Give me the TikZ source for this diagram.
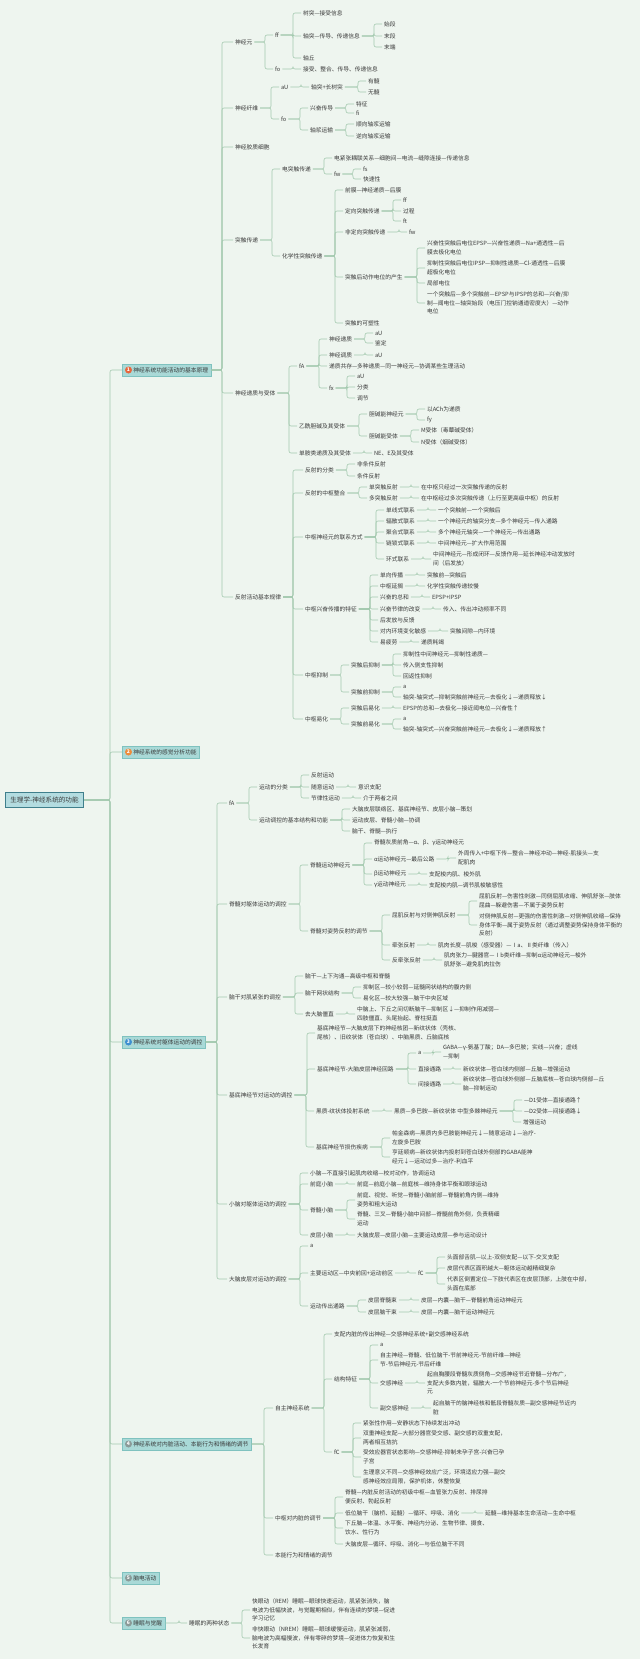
\documentclass[tikz,border=0pt]{standalone}
\usepackage{fontspec}
\setmainfont{Noto Sans CJK SC}
\definecolor{bg}{HTML}{EEF5EF}
\definecolor{lc}{HTML}{A3C9AE}
\definecolor{txt}{HTML}{3A3A3A}
\definecolor{boxf}{HTML}{A9D9D7}
\definecolor{boxd}{HTML}{7FC2BF}
\definecolor{rootf}{HTML}{B3DCE0}
\definecolor{rootd}{HTML}{3F7F8C}
\definecolor{ic1}{HTML}{E8663D}
\definecolor{ic2}{HTML}{EE8B3A}
\definecolor{ic3}{HTML}{3E8FD0}
\definecolor{ic4}{HTML}{8A9A98}
\tikzset{
 t/.style={anchor=west,inner sep=1.8pt,font=\fontsize{5.75}{8.5}\selectfont,text=txt,align=left},
 conn/.style={draw=lc,line width=0.6pt,rounded corners=2pt},
 lone/.style={anchor=west,draw=boxd,fill=boxf,line width=0.5pt,inner xsep=3pt,inner ysep=2pt,minimum height=12pt,font=\fontsize{5.75}{8.5}\selectfont,text=txt},
 rootbox/.style={anchor=west,draw=rootd,fill=rootf,line width=0.8pt,inner xsep=5pt,minimum height=15pt,font=\fontsize{6.6}{8}\selectfont,text=txt},
 circ/.style={circle,inner sep=0pt,minimum size=7pt,text=white,font=\fontsize{5}{5}\selectfont\bfseries}
}
\newcommand\mk[4]{\node[t] (#1) at (#2,#3) {#4};}
\newcommand\lks[3][8]{\foreach \cc in {#3}{\draw[conn] (#2.east) -| ([xshift=-#1pt]\cc.west) -- (\cc.west);}}
\begin{document}
\begin{tikzpicture}[x=1pt,y=-1pt]
\fill[bg] (0,0) rectangle (640,1659);
\useasboundingbox (0,0) rectangle (640,1659);
% root and level 1
\node[rootbox] (R) at (5,800) {生理学-神经系统的功能};
\node[lone] (L1) at (122,370) {\hspace*{8pt}神经系统功能活动的基本原理};
\node[lone] (L2) at (122,752) {\hspace*{8pt}神经系统的感觉分析功能};
\node[lone] (L3) at (122,1042) {\hspace*{8pt}神经系统对躯体运动的调控};
\node[lone] (L4) at (122,1444) {\hspace*{8pt}神经系统对内脏活动、本能行为和情绪的调节};
\node[lone] (L5) at (122,1578) {\hspace*{8pt}脑电活动};
\node[lone] (L6) at (122,1623) {\hspace*{8pt}睡眠与觉醒};
\lks[12]{R}{L1,L2,L3,L4,L5,L6}
\node[circ,fill=ic1] at ([xshift=6.5pt]L1.west) {1};
\node[circ,fill=ic2] at ([xshift=6.5pt]L2.west) {2};
\node[circ,fill=ic3] at ([xshift=6.5pt]L3.west) {3};
\node[circ,fill=ic4] at ([xshift=6.5pt]L4.west) {4};
\node[circ,fill=ic4] at ([xshift=6.5pt]L5.west) {5};
\node[circ,fill=ic4] at ([xshift=6.5pt]L6.west) {6};
% ===== L1 =====
\mk{a1}{233}{42}{神经元}
\mk{a2}{233}{108}{神经纤维}
\mk{a3}{233}{147}{神经胶质细胞}
\mk{a4}{233}{240}{突触传递}
\mk{a5}{233}{393}{神经递质与受体}
\mk{a6}{233}{597}{反射活动基本规律}
\lks[11]{L1}{a1,a2,a3,a4,a5,a6}
\mk{b1}{273}{35}{ff}
\mk{b2}{273}{69}{fo}
\lks{a1}{b1,b2}
\mk{c1}{301}{13}{树突—接受信息}
\mk{c2}{301}{36}{轴突—传导、传递信息}
\mk{c3}{301}{58}{轴丘}
\lks{b1}{c1,c2,c3}
\mk{d1}{382}{24}{始段}
\mk{d2}{382}{36}{末段}
\mk{d3}{382}{47}{末端}
\lks{c2}{d1,d2,d3}
\mk{c4}{301}{69}{接受、整合、传导、传递信息}
\lks{b2}{c4}
\mk{b3}{279}{87}{aU}
\mk{b4}{279}{119}{fo}
\lks{a2}{b3,b4}
\mk{c5}{309}{87}{轴突+长树突}
\lks{b3}{c5}
\mk{d4}{366}{81}{有髓}
\mk{d5}{366}{92}{无髓}
\lks{c5}{d4,d5}
\mk{c6}{308}{108}{兴奋传导}
\mk{c7}{308}{130}{轴浆运输}
\lks{b4}{c6,c7}
\mk{d6}{354}{104}{特征}
\mk{d7}{354}{113}{fi}
\lks{c6}{d6,d7}
\mk{d8}{354}{124}{顺向轴浆运输}
\mk{d9}{354}{136}{逆向轴浆运输}
\lks{c7}{d8,d9}
\mk{b5}{280}{169}{电突触传递}
\mk{b6}{280}{256}{化学性突触传递}
\lks{a4}{b5,b6}
\mk{c8}{332}{158}{电紧张耦联关系—细胞间—电流—缝隙连接—传递信息}
\mk{c9}{332}{174}{fw}
\lks{b5}{c8,c9}
\mk{d10}{361}{169}{fs}
\mk{d11}{361}{179}{快速性}
\lks{c9}{d10,d11}
\mk{c10}{343}{190}{前膜—神经递质—后膜}
\mk{c11}{343}{211}{定向突触传递}
\mk{c12}{343}{232}{非定向突触传递}
\mk{c13}{343}{277}{突触后动作电位的产生}
\mk{c14}{343}{323}{突触的可塑性}
\lks{b6}{c10,c11,c12,c13,c14}
\mk{d12}{401}{200}{ff}
\mk{d13}{401}{211}{过程}
\mk{d14}{401}{221}{ft}
\lks{c11}{d12,d13,d14}
\mk{d15}{407}{232}{fw}
\lks{c12}{d15}
\mk{d16}{425}{248}{兴奋性突触后电位EPSP—兴奋性递质—Na+通透性—后\\膜去极化电位}
\mk{d17}{425}{268}{抑制性突触后电位IPSP—抑制性递质—Cl-通透性—后膜\\超极化电位}
\mk{d18}{425}{283}{局部电位}
\mk{d19}{425}{303}{一个突触后—多个突触前—EPSP与IPSP的总和—兴奋/抑\\制—阈电位—轴突始段（电压门控钠通道密度大）—动作\\电位}
\lks{c13}{d16,d17,d18,d19}
\mk{b7}{297}{366}{fA}
\mk{b8}{297}{426}{乙酰胆碱及其受体}
\mk{b9}{297}{453}{单胺类递质及其受体}
\lks{a5}{b7,b8,b9}
\mk{c15}{327}{339}{神经递质}
\mk{c16}{327}{355}{神经调质}
\mk{c17}{327}{366}{递质共存—多种递质—同一神经元—协调某些生理活动}
\mk{c18}{327}{388}{fx}
\lks{b7}{c15,c16,c17,c18}
\mk{d20}{373}{333}{aU}
\mk{d21}{373}{343}{鉴定}
\lks{c15}{d20,d21}
\mk{d22}{373}{355}{aU}
\lks{c16}{d22}
\mk{d23}{355}{376}{aU}
\mk{d24}{355}{387}{分类}
\mk{d25}{355}{398}{调节}
\lks{c18}{d23,d24,d25}
\mk{c19}{367}{414}{胆碱能神经元}
\mk{c20}{367}{436}{胆碱能受体}
\lks{b8}{c19,c20}
\mk{d26}{425}{409}{以ACh为递质}
\mk{d27}{425}{420}{fy}
\lks{c19}{d26,d27}
\mk{d28}{419}{430}{M受体（毒蕈碱受体）}
\mk{d29}{419}{442}{N受体（烟碱受体）}
\lks{c20}{d28,d29}
\mk{c21}{372}{453}{NE、E及其受体}
\lks{b9}{c21}
\mk{b10}{303}{470}{反射的分类}
\mk{b11}{303}{493}{反射的中枢整合}
\mk{b12}{303}{537}{中枢神经元的联系方式}
\mk{b13}{303}{609}{中枢兴奋传播的特征}
\mk{b14}{303}{675}{中枢抑制}
\mk{b15}{303}{719}{中枢易化}
\lks[10]{a6}{b10,b11,b12,b13,b14,b15}
\mk{c22}{355}{464}{非条件反射}
\mk{c23}{355}{476}{条件反射}
\lks{b10}{c22,c23}
\mk{c24}{367}{487}{单突触反射}
\mk{c25}{367}{498}{多突触反射}
\lks{b11}{c24,c25}
\mk{d30}{419}{487}{在中枢只经过一次突触传递的反射}
\lks{c24}{d30}
\mk{d31}{419}{498}{在中枢经过多次突触传递（上行至更高级中枢）的反射}
\lks{c25}{d31}
\mk{c26}{384}{510}{单线式联系}
\mk{c27}{384}{521}{辐散式联系}
\mk{c28}{384}{532}{聚合式联系}
\mk{c29}{384}{543}{链锁式联系}
\mk{c30}{384}{559}{环式联系}
\lks{b12}{c26,c27,c28,c29,c30}
\mk{d32}{436}{510}{一个突触前—一个突触后}
\lks{c26}{d32}
\mk{d33}{436}{521}{一个神经元的轴突分支—多个神经元—传入通路}
\lks{c27}{d33}
\mk{d34}{436}{532}{多个神经元轴突—一个神经元—传出通路}
\lks{c28}{d34}
\mk{d35}{436}{543}{中间神经元—扩大作用范围}
\lks{c29}{d35}
\mk{d36}{431}{559}{中间神经元—形成闭环—反馈作用—延长神经冲动发放时\\间（后发放）}
\lks{c30}{d36}
\mk{c31}{378}{575}{单向传播}
\mk{c32}{378}{586}{中枢延搁}
\mk{c33}{378}{597}{兴奋的总和}
\mk{c34}{378}{609}{兴奋节律的改变}
\mk{c35}{378}{620}{后发放与反馈}
\mk{c36}{378}{631}{对内环境变化敏感}
\mk{c37}{378}{642}{易疲劳}
\lks{b13}{c31,c32,c33,c34,c35,c36,c37}
\mk{d37}{425}{575}{突触前—突触后}
\lks{c31}{d37}
\mk{d38}{425}{586}{化学性突触传递较慢}
\lks{c32}{d38}
\mk{d39}{430}{597}{EPSP+IPSP}
\lks{c33}{d39}
\mk{d40}{441}{609}{传入、传出冲动频率不同}
\lks{c34}{d40}
\mk{d41}{448}{631}{突触间隙—内环境}
\lks{c36}{d41}
\mk{d42}{419}{642}{递质耗竭}
\lks{c37}{d42}
\mk{c38}{349}{665}{突触后抑制}
\mk{c39}{349}{692}{突触前抑制}
\lks{b14}{c38,c39}
\mk{d43}{401}{654}{抑制性中间神经元—抑制性递质—}
\mk{d44}{401}{665}{传入侧支性抑制}
\mk{d45}{401}{676}{回返性抑制}
\lks{c38}{d43,d44,d45}
\mk{d46}{401}{687}{a}
\mk{d47}{401}{697}{轴突-轴突式—抑制突触前神经元—去极化↓—递质释放↓}
\lks{c39}{d46,d47}
\mk{c40}{349}{708}{突触后易化}
\mk{c41}{349}{724}{突触前易化}
\lks{b15}{c40,c41}
\mk{d48}{401}{708}{EPSP的总和—去极化—接近阈电位—兴奋性↑}
\lks{c40}{d48}
\mk{d49}{401}{719}{a}
\mk{d50}{401}{729}{轴突-轴突式—兴奋突触前神经元—去极化↓—递质释放↑}
\lks{c41}{d49,d50}
% ===== L3 =====
\mk{e1}{227}{803}{fA}
\mk{e2}{227}{904}{脊髓对躯体运动的调控}
\mk{e3}{227}{997}{脑干对肌紧张的调控}
\mk{e4}{227}{1095}{基底神经节对运动的调控}
\mk{e5}{227}{1204}{小脑对躯体运动的调控}
\mk{e6}{227}{1279}{大脑皮层对运动的调控}
\lks[10]{L3}{e1,e2,e3,e4,e5,e6}
\mk{f1}{257}{787}{运动的分类}
\mk{f2}{257}{820}{运动调控的基本结构和功能}
\lks{e1}{f1,f2}
\mk{g1}{309}{775}{反射运动}
\mk{g2}{309}{787}{随意运动}
\mk{g3}{309}{798}{节律性运动}
\lks{f1}{g1,g2,g3}
\mk{h1}{356}{787}{意识支配}
\lks{g2}{h1}
\mk{h2}{361}{798}{介于两者之间}
\lks{g3}{h2}
\mk{g4}{350}{809}{大脑皮层联络区、基底神经节、皮层小脑—策划}
\mk{g5}{350}{820}{运动皮层、脊髓小脑—协调}
\mk{g6}{350}{831}{脑干、脊髓—执行}
\lks{f2}{g4,g5,g6}
\mk{f3}{308}{865}{脊髓运动神经元}
\mk{f4}{308}{931}{脊髓对姿势反射的调节}
\lks{e2}{f3,f4}
\mk{g7}{372}{843}{脊髓灰质前角—α、β、γ运动神经元}
\mk{g8}{372}{859}{α运动神经元—最后公路}
\mk{g9}{372}{874}{β运动神经元}
\mk{g10}{372}{885}{γ运动神经元}
\lks{f3}{g7,g8,g9,g10}
\mk{h3}{456}{858}{外周传入+中枢下传—整合—神经冲动—神经-肌接头—支\\配肌肉}
\lks{g8}{h3}
\mk{h4}{427}{874}{支配梭内肌、梭外肌}
\lks{g9}{h4}
\mk{h5}{427}{885}{支配梭内肌—调节肌梭敏感性}
\lks{g10}{h5}
\mk{g11}{390}{915}{屈肌反射与对侧伸肌反射}
\mk{g12}{390}{945}{牵张反射}
\mk{g13}{390}{960}{反牵张反射}
\lks{f4}{g11,g12,g13}
\mk{h6}{477}{901}{屈肌反射—伤害性刺激—同侧屈肌收缩、伸肌舒张—肢体\\屈曲—躲避伤害—不属于姿势反射}
\mk{h7}{477}{925}{对侧伸肌反射—更强的伤害性刺激—对侧伸肌收缩—保持\\身体平衡—属于姿势反射（通过调整姿势保持身体平衡的\\反射）}
\lks{g11}{h6,h7}
\mk{h8}{436}{945}{肌肉长度—肌梭（感受器）—Ⅰa、Ⅱ类纤维（传入）}
\lks{g12}{h8}
\mk{h9}{442}{960}{肌肉张力—腱器官—Ⅰb类纤维—抑制α运动神经元—梭外\\肌舒张—避免肌肉拉伤}
\lks{g13}{h9}
\mk{f5}{303}{976}{脑干—上下沟通—高级中枢和脊髓}
\mk{f6}{303}{993}{脑干网状结构}
\mk{f7}{303}{1014}{去大脑僵直}
\lks{e3}{f5,f6,f7}
\mk{g14}{361}{987}{抑制区—较小较弱—延髓网状结构的腹内侧}
\mk{g15}{361}{998}{易化区—较大较强—脑干中央区域}
\lks{f6}{g14,g15}
\mk{g16}{355}{1014}{中脑上、下丘之间切断脑干—抑制区↓—抑制作用减弱—\\四肢僵直、头尾抬起、脊柱挺直}
\lks{f7}{g16}
\mk{f8}{315}{1033}{基底神经节—大脑皮层下的神经核团—新纹状体（壳核、\\尾核）、旧纹状体（苍白球）、中脑黑质、丘脑底核}
\mk{f9}{315}{1069}{基底神经节-大脑皮层神经回路}
\mk{f10}{314}{1111}{黑质-纹状体投射系统}
\mk{f11}{314}{1147}{基底神经节损伤疾病}
\lks{e4}{f8,f9,f10,f11}
\mk{g17}{416}{1053}{a}
\mk{g18}{416}{1069}{直接通路}
\mk{g19}{416}{1084}{间接通路}
\lks{f9}{g17,g18,g19}
\mk{h10}{441}{1052}{GABA—γ-氨基丁酸；DA—多巴胺；实线—兴奋；虚线\\—抑制}
\lks{g17}{h10}
\mk{h11}{461}{1069}{新纹状体—苍白球内侧部—丘脑—增强运动}
\lks{g18}{h11}
\mk{h12}{461}{1084}{新纹状体—苍白球外侧部—丘脑底核—苍白球内侧部—丘\\脑—抑制运动}
\lks{g19}{h12}
\mk{g20}{392}{1111}{黑质—多巴胺—新纹状体 中型多棘神经元}
\lks{f10}{g20}
\mk{h13}{522}{1100}{—D1受体—直接通路↑}
\mk{h14}{522}{1111}{—D2受体—间接通路↓}
\mk{h15}{521}{1122}{增强运动}
\lks{g20}{h13,h14,h15}
\mk{g21}{390}{1138}{帕金森病—黑质内多巴胺能神经元↓—随意运动↓—治疗-\\左旋多巴胺}
\mk{g22}{390}{1157}{亨廷顿病—新纹状体内投射到苍白球外侧部的GABA能神\\经元↓—运动过多—治疗-利血平}
\lks{f11}{g21,g22}
\mk{f12}{308}{1173}{小脑—不直接引起肌肉收缩—校对动作，协调运动}
\mk{f13}{308}{1184}{前庭小脑}
\mk{f14}{308}{1210}{脊髓小脑}
\mk{f15}{308}{1235}{皮层小脑}
\lks{e5}{f12,f13,f14,f15}
\mk{g23}{355}{1184}{前庭—前庭小脑—前庭核—维持身体平衡和眼球运动}
\lks{f13}{g23}
\mk{g24}{355}{1200}{前庭、视觉、听觉—脊髓小脑前部—脊髓前角内侧—维持\\姿势和粗大运动}
\mk{g25}{355}{1219}{脊髓、三叉—脊髓小脑中间部—脊髓前角外侧，负责精细\\运动}
\lks{f14}{g24,g25}
\mk{g26}{355}{1235}{大脑皮层—皮层小脑—主要运动皮层—参与运动设计}
\lks{f15}{g26}
\mk{f16}{308}{1246}{a}
\mk{f17}{308}{1273}{主要运动区—中央前回+运动前区}
\mk{f18}{308}{1306}{运动传出通路}
\lks{e6}{f16,f17,f18}
\mk{g27}{416}{1273}{fC}
\lks{f17}{g27}
\mk{h16}{445}{1257}{头面部舌肌—以上-双侧支配—以下-交叉支配}
\mk{h17}{445}{1268}{皮层代表区面积越大—躯体运动越精细复杂}
\mk{h18}{445}{1284}{代表区倒置定位—下肢代表区在皮层顶部，上肢在中部，\\头面在底部}
\lks{g27}{h16,h17,h18}
\mk{g28}{366}{1300}{皮层脊髓束}
\mk{g29}{366}{1312}{皮层脑干束}
\lks{f18}{g28,g29}
\mk{h19}{419}{1300}{皮层—内囊—脑干—脊髓前角运动神经元}
\lks{g28}{h19}
\mk{h20}{419}{1312}{皮层—内囊—脑干运动神经元}
\lks{g29}{h20}
% ===== L4 =====
\mk{i1}{273}{1408}{自主神经系统}
\mk{i2}{273}{1518}{中枢对内脏的调节}
\mk{i3}{273}{1555}{本能行为和情绪的调节}
\lks[9]{L4}{i1,i2,i3}
\mk{j1}{332}{1334}{支配内脏的传出神经—交感神经系统+副交感神经系统}
\mk{j2}{332}{1379}{结构特征}
\mk{j3}{332}{1452}{fC}
\lks{i1}{j1,j2,j3}
\mk{k1}{378}{1345}{a}
\mk{k2}{378}{1360}{自主神经—脊髓、低位脑干-节前神经元-节前纤维—神经\\节-节后神经元-节后纤维}
\mk{k3}{378}{1383}{交感神经}
\mk{k4}{378}{1408}{副交感神经}
\lks{j2}{k1,k2,k3,k4}
\mk{l1}{425}{1383}{起自胸腰段脊髓灰质侧角—交感神经节近脊髓—分布广，\\支配大多数内脏，辐散大-一个节前神经元-多个节后神经\\元}
\lks{k3}{l1}
\mk{l2}{431}{1408}{起自脑干的脑神经核和骶段脊髓灰质—副交感神经节近内\\脏}
\lks{k4}{l2}
\mk{k5}{361}{1423}{紧张性作用—安静状态下持续发出冲动}
\mk{k6}{361}{1438}{双重神经支配—大部分器官受交感、副交感的双重支配，\\两者相互拮抗}
\mk{k7}{361}{1457}{受效应器官状态影响—交感神经-抑制未孕子宫-兴奋已孕\\子宫}
\mk{k8}{361}{1477}{生理意义不同—交感神经效应广泛，环境适应力强—副交\\感神经效应局限，保护机体，休整恢复}
\lks{j3}{k5,k6,k7,k8}
\mk{k9}{343}{1497}{脊髓—内脏反射活动的初级中枢—血管张力反射、排尿排\\便反射、勃起反射}
\mk{k10}{343}{1513}{低位脑干（脑桥、延髓）—循环、呼吸、消化}
\mk{k11}{343}{1528}{下丘脑—体温、水平衡、神经内分泌、生物节律、摄食、\\饮水、性行为}
\mk{k12}{343}{1544}{大脑皮层—循环、呼吸、消化—与低位脑干不同}
\lks{i2}{k9,k10,k11,k12}
\mk{l3}{483}{1513}{延髓—维持基本生命活动—生命中枢}
\lks{k10}{l3}
% ===== L6 =====
\mk{m1}{187}{1623}{睡眠的两种状态}
\lks{L6}{m1}
\mk{n1}{250}{1610}{快眼动（REM）睡眠—眼球快速运动，肌紧张消失，脑\\电波为低幅快波，与觉醒期相似，伴有连续的梦境—促进\\学习记忆}
\mk{n2}{250}{1638}{非快眼动（NREM）睡眠—眼球缓慢运动，肌紧张减弱，\\脑电波为高幅慢波，伴有零碎的梦境—促进体力恢复和生\\长发育}
\lks{m1}{n1,n2}
\end{tikzpicture}
\end{document}
